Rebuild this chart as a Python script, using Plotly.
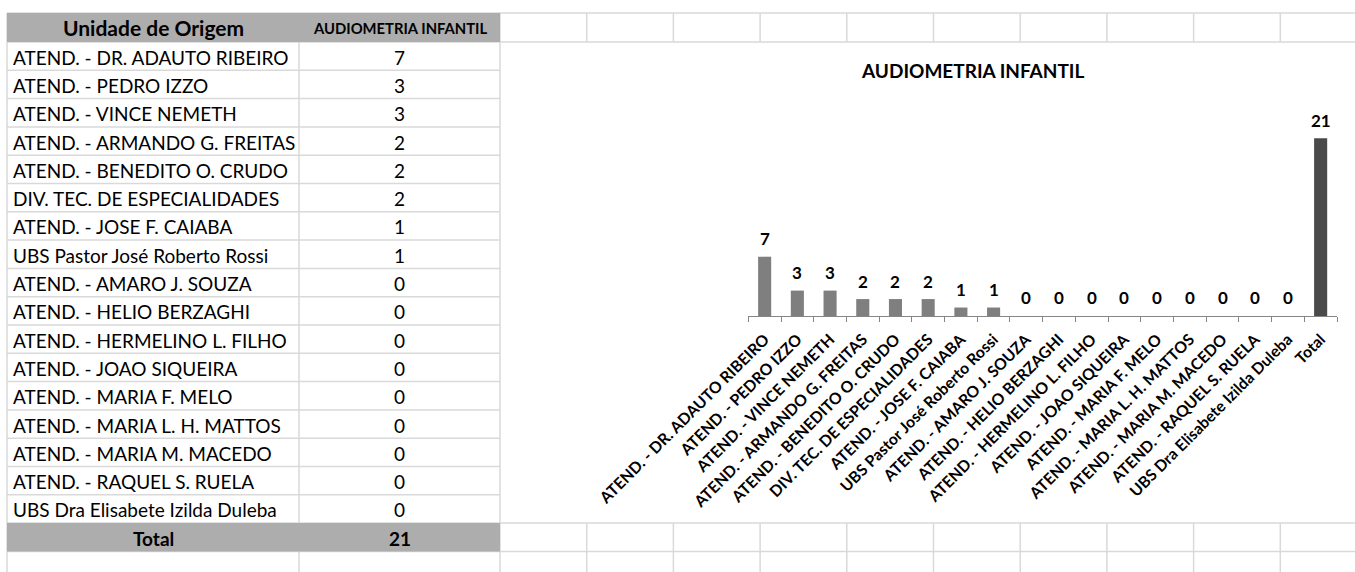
import plotly.graph_objects as go

# ---------------- data ----------------
units = [
    "ATEND. - DR. ADAUTO RIBEIRO",
    "ATEND. - PEDRO IZZO",
    "ATEND. - VINCE NEMETH",
    "ATEND. - ARMANDO G. FREITAS",
    "ATEND. - BENEDITO O. CRUDO",
    "DIV. TEC. DE ESPECIALIDADES",
    "ATEND. - JOSE F. CAIABA",
    "UBS Pastor José Roberto Rossi",
    "ATEND. - AMARO J. SOUZA",
    "ATEND. - HELIO BERZAGHI",
    "ATEND. - HERMELINO L. FILHO",
    "ATEND. - JOAO SIQUEIRA",
    "ATEND. - MARIA F. MELO",
    "ATEND. - MARIA L. H. MATTOS",
    "ATEND. - MARIA M. MACEDO",
    "ATEND. - RAQUEL S. RUELA",
    "UBS Dra Elisabete Izilda Duleba",
]
values = [7, 3, 3, 2, 2, 2, 1, 1, 0, 0, 0, 0, 0, 0, 0, 0, 0]
total_label = "Total"
total_value = 21
header_col1 = "Unidade de Origem"
header_col2 = "AUDIOMETRIA INFANTIL"
chart_title = "AUDIOMETRIA INFANTIL"

# ---------------- layout constants (pixels) ----------------
W, H = 1355, 572
FONT = "Lato"
GRID = "#d9d9d9"
HEAD_FILL = "#adadad"
BAR_COLOR = "#7f7f7f"
TOTAL_COLOR = "#4a4a4a"

tbl_left, tbl_mid, tbl_right = 7, 299, 500
row_top0, head_h, row_h = 13, 29, 28.3
body_top = row_top0 + head_h
n_rows = len(units)
total_top = body_top + n_rows * row_h
total_bot = total_top + row_h
grid_cols = [tbl_right + 86.7 * k for k in range(11)]

# chart plot area in pixels
ax_left, ax_right = 748.3, 1337.0
base_y, px_per_unit = 316.0, 8.47
y_max = 24

cats = units + [total_label]
vals = values + [total_value]
colors = [BAR_COLOR] * len(units) + [TOTAL_COLOR]

fig = go.Figure()
fig.add_trace(go.Bar(
    x=cats, y=vals, marker=dict(color=colors, line=dict(width=0)),
    width=0.4, xaxis="x", yaxis="y", showlegend=False, hoverinfo="skip",
))

shapes = []
annotations = []

def hline(y, x0, x1):
    shapes.append(dict(type="line", xref="x2", yref="y2", x0=x0, x1=x1, y0=y, y1=y,
                       line=dict(color=GRID, width=1.5), layer="below"))

def vline(x, y0, y1):
    shapes.append(dict(type="line", xref="x2", yref="y2", x0=x, x1=x, y0=y0, y1=y1,
                       line=dict(color=GRID, width=1.5), layer="below"))

# table row lines
for i in range(n_rows + 1):
    hline(body_top + i * row_h, tbl_left, tbl_right)
hline(row_top0, tbl_left, tbl_right)
hline(total_bot, tbl_left, W)
hline(total_top, tbl_right, W)
hline(row_top0, tbl_right, W)
hline(body_top, tbl_right, W)
# table column lines
vline(tbl_left, row_top0, H)
vline(tbl_mid, body_top, total_top)
vline(tbl_mid, total_bot, H)
vline(tbl_right, row_top0, H)
# right grid (visible above and below chart)
for gx in grid_cols[1:]:
    vline(gx, row_top0, body_top)
    vline(gx, total_top, H)

# header + total bands (drawn over the grid lines)
shapes.append(dict(type="rect", xref="x2", yref="y2", x0=tbl_left, x1=tbl_right,
                   y0=row_top0, y1=body_top, fillcolor=HEAD_FILL, line=dict(width=0), layer="below"))
shapes.append(dict(type="rect", xref="x2", yref="y2", x0=tbl_left, x1=tbl_right,
                   y0=total_top, y1=total_bot, fillcolor=HEAD_FILL, line=dict(width=0), layer="below"))

# header texts
annotations.append(dict(x=(tbl_left + tbl_mid) / 2, y=row_top0 + head_h / 2, text=header_col1,
                        font=dict(family=FONT, size=21, color="#000", weight="bold")))
annotations.append(dict(x=(tbl_mid + tbl_right) / 2, y=row_top0 + head_h / 2, text=header_col2,
                        font=dict(family=FONT, size=14.8, color="#000", weight="bold")))
# body texts
for i, (u, v) in enumerate(zip(units, values)):
    cy = body_top + i * row_h + row_h / 2 + 1
    annotations.append(dict(x=11, y=cy, text=u, xanchor="left",
                            font=dict(family=FONT, size=19, color="#000")))
    annotations.append(dict(x=(tbl_mid + tbl_right) / 2, y=cy, text=str(v),
                            font=dict(family=FONT, size=19, color="#000")))
# total row
annotations.append(dict(x=(tbl_left + tbl_mid) / 2, y=total_top + row_h / 2 + 1, text=total_label,
                        font=dict(family=FONT, size=19, color="#000", weight="bold")))
annotations.append(dict(x=(tbl_mid + tbl_right) / 2, y=total_top + row_h / 2 + 1, text=str(total_value),
                        font=dict(family=FONT, size=19, color="#000", weight="bold")))
for a in annotations:
    a.update(xref="x2", yref="y2", showarrow=False, yanchor="middle")
    a.setdefault("xanchor", "center")

# chart title
annotations.append(dict(x=972, y=70, xref="x2", yref="y2", text=chart_title, showarrow=False,
                        xanchor="center", yanchor="middle",
                        font=dict(family=FONT, size=19, color="#000", weight="bold")))
# bar value labels
for c, v in zip(cats, vals):
    annotations.append(dict(x=c, y=v, xref="x", yref="y", text=str(v), showarrow=False,
                            xanchor="center", yanchor="middle", yshift=18,
                            font=dict(family=FONT, size=17, color="#000", weight="bold")))

fig.update_layout(
    width=W, height=H, autosize=False,
    margin=dict(l=0, r=0, t=0, b=0, pad=0, autoexpand=False),
    paper_bgcolor="white", plot_bgcolor="rgba(0,0,0,0)",
    showlegend=False,
    xaxis=dict(domain=[ax_left / W, ax_right / W], anchor="y", type="category",
               range=[-0.5, len(cats) - 0.5], automargin=False,
               showline=True, linecolor="#868686", linewidth=1,
               ticks="outside", tickson="boundaries", ticklen=5, tickcolor="#868686",
               tickangle=-45, showgrid=False, zeroline=False, ticklabelstandoff=7,
               tickfont=dict(family=FONT, size=15.8, color="#000", weight="bold")),
    yaxis=dict(domain=[1 - base_y / H, 1 - (base_y - y_max * px_per_unit) / H], anchor="x",
               range=[0, y_max], visible=False, showgrid=False, zeroline=False, automargin=False),
    xaxis2=dict(domain=[0, 1], range=[0, W], anchor="y2", visible=False, fixedrange=True, automargin=False),
    yaxis2=dict(domain=[0, 1], range=[H, 0], anchor="x2", visible=False, fixedrange=True, automargin=False),
    shapes=shapes,
    annotations=annotations,
)

fig.write_html("out.html", post_script="document.body.style.margin='0';document.body.style.overflow='hidden';",
               config={"displayModeBar": False})
